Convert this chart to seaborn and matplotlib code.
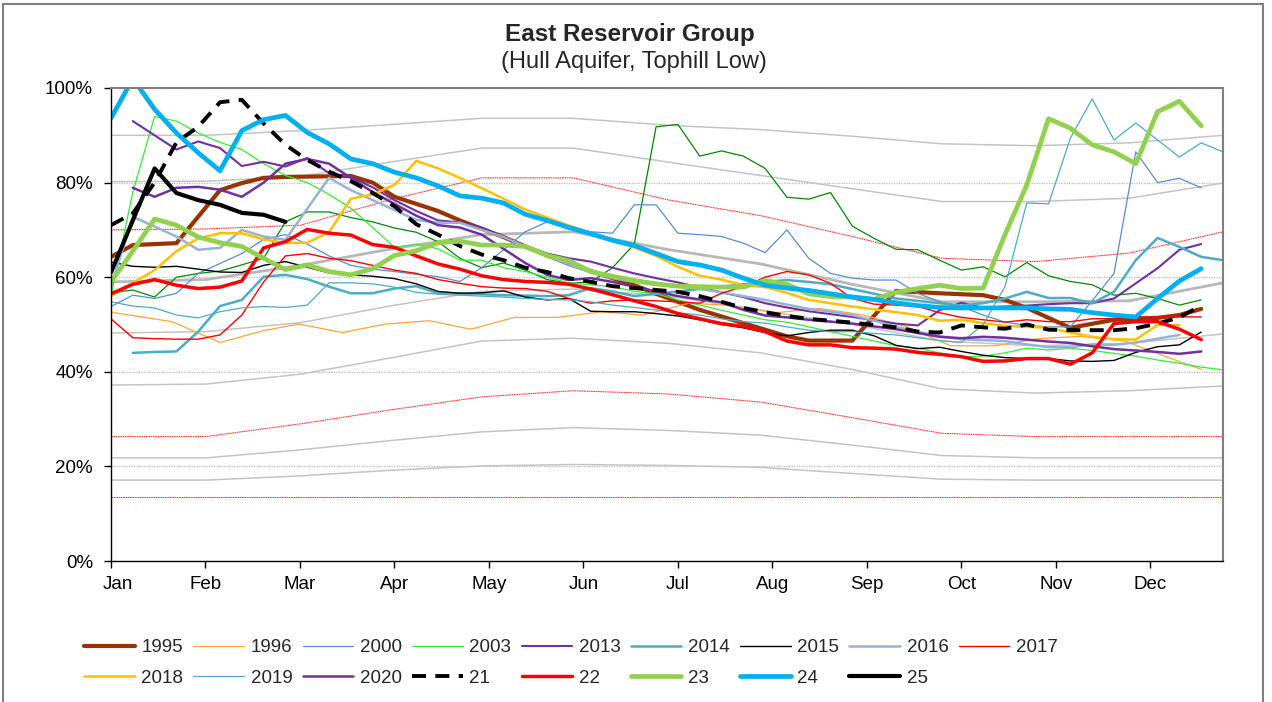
import numpy as np
import matplotlib
matplotlib.use("Agg")
import matplotlib.pyplot as plt
from matplotlib.patches import Rectangle
from matplotlib.transforms import ScaledTranslation
import seaborn as sns

# x axis is in weeks of the year (52 weeks, labels every month)
months = ["Jan", "Feb", "Mar", "Apr", "May", "Jun", "Jul", "Aug", "Sep", "Oct", "Nov", "Dec"]

# monthly band curves (grey / red guide lines)
band_weeks = [0, 4.35, 8.7, 12.9, 17, 21.2, 25.6, 29.8, 34, 38.1, 42.4, 46.7, 51]
grey_top = [90, 90, 91, 92.3, 93.6, 93.6, 92.1, 91.2, 89.8, 88.2, 87.8, 88.4, 90]
grey_upper = [80.2, 80.3, 81.3, 84.4, 87.3, 87.3, 84.3, 81.5, 78.7, 76, 76, 76.7, 79.9]
red_upper = [70, 70.2, 71, 76.5, 81, 81, 76.3, 73, 68.6, 64, 63.3, 65.1, 69.6]
grey_mid = [59, 59.5, 62.5, 66, 69, 69.6, 65.8, 62.8, 58.5, 54.8, 54.8, 55, 58.8]
grey_lowmid = [48.2, 48.5, 50.4, 54, 57, 57.5, 56, 53, 50, 46.5, 45.5, 46, 48]
grey_low = [37.2, 37.4, 39.5, 43, 46.5, 47.1, 46, 44, 40.5, 36.4, 35.5, 36, 37]
red_low = [26.3, 26.3, 29, 32, 34.7, 36, 35.3, 33.6, 30.3, 27, 26.3, 26.3, 26.3]
grey_lower = [21.8, 21.8, 23.5, 25.5, 27.3, 28.2, 27.6, 26.6, 24.5, 22.3, 21.8, 21.8, 21.8]
grey_bottom = [17.1, 17.1, 18, 19.2, 20.1, 20.4, 20.2, 19.8, 18.5, 17.3, 17.1, 17.1, 17.1]
red_floor = [13.5, 13.5, 13.5, 13.5, 13.5, 13.5, 13.5, 13.5, 13.5, 13.5, 13.5, 13.5, 13.5]

# yearly storage, % full (weekly readings, starting week given)
y1995_wk = [0, 1, 3, 5, 6, 7, 8, 11, 12, 13, 15, 16, 18, 19, 21, 23, 24, 25, 27, 29, 31, 32, 34,
            36, 38, 40, 41, 42, 44, 46, 48, 49, 50]
y1995 = [64.3, 66.8, 67.2, 78.4, 79.9, 81, 81.2, 81.4, 80, 77, 74, 72, 68.5, 66.5, 62.8, 59.8,
         58.3, 56.5, 53.1, 50.3, 47.5, 46.6, 46.6, 57.1, 56.6, 56.2, 55.2, 53.5, 49.3, 51, 51.4, 52, 53.3]

y1996_wk = [0, 2.8, 5, 7, 8.6, 10.6, 12.6, 14.6, 16.5, 18.5, 20.5, 22.5, 24.4, 26.5, 28.5, 30.5,
            32.5, 34.5, 36.5, 38.5, 40.5, 42.5, 44.5, 46.5, 48.5, 50]
y1996 = [52.6, 50.6, 46.2, 48.7, 50.1, 48.3, 50.1, 50.8, 49, 51.5, 51.5, 52.7, 52, 54.5, 54, 52.5,
         53.4, 52, 49.5, 45.5, 45.5, 47, 47.5, 46.5, 43, 40.5]

y2000 = [53.8, 56.2, 55.5, 56.6, 60.8, 62.9, 65, 68, 69, 67, 64.5, 62.5, 61.7, 61.2, 60.6, 60.1,
         59.1, 62, 65.8, 69.6, 71.7, 70.6, 69.6, 69.3, 75.3, 75.3, 69.3, 69, 68.6, 67.2, 65.2, 70,
         64, 60.8, 59.8, 59.4, 59.4, 56.6, 54.8, 53.8, 52, 50.5, 49.8, 49.5, 49.5, 55, 60.8, 86.5,
         80, 80.9, 78.9]

y2003 = [56, 78, 94, 93, 90.5, 88.5, 87, 84, 81.5, 80, 77.5, 74.6, 70.5, 66.3, 67, 66, 63.6, 63.6,
         62, 61.2, 60, 58.8, 58.4, 58, 57, 56.5, 55.2, 54.1, 53, 52, 51, 50.5, 49.5, 48.5, 47.5,
         46.5, 45.5, 45, 44, 43.2, 43.3, 44, 45, 44.6, 45, 44.5, 43.9, 43.3, 42.5, 41.8, 41, 40.4]

y2003b = [56.7, 57.3, 55.8, 60, 60.8, 61.3, 62.6, 64, 71.7, 73.8, 73.8, 72.6, 71.7, 70.4, 69.5,
          67.5, 64, 62, 63, 61.5, 59.5, 58.7, 59, 62, 67, 91.8, 92.3, 85.6, 86.7, 85.6, 83, 76.9,
          76.5, 77.9, 70.8, 68.2, 65.9, 65.8, 63.6, 61.5, 62.2, 60.1, 63.1, 60.3, 59.1, 58.4,
          56.2, 56.6, 55.5, 54.1, 55.2]

y2013 = [93, 90, 87, 88.7, 87.3, 83.5, 84.4, 83.4, 85.2, 82, 81.2, 79, 76.3, 74, 72, 71.6, 70.5,
         68.5, 66.5, 65, 64, 63.3, 62, 60.8, 59.8, 58.9, 57.8, 56.8, 55.8, 54.5, 53.6, 52.8,
         52.2, 51.6, 50.9, 50.2, 49.8, 53, 54.6, 53.5, 53.8, 54, 54.3, 54.5, 54.5, 55.5, 58.7,
         61.9, 65.8, 67]

y2014 = [44, 44.2, 44.3, 48.5, 53.9, 55.2, 60.1, 60.5, 59.6, 58, 56.6, 56.6, 57.6, 58.1, 56.6,
         56.6, 56.4, 56.2, 56.1, 56, 56.2, 57.7, 57, 56, 56.5, 57, 57.5, 58, 58.5, 59, 59.4, 59,
         58.5, 57.5, 56.5, 55.5, 55, 54.5, 54, 54.5, 55.5, 56.9, 55.6, 55.6, 54.5, 56.9, 63.6,
         68.3, 66.4, 64.3, 63.6, 62.2]

y2015 = [63.2, 62.3, 62.1, 62.3, 61.7, 61.1, 61, 62.5, 63.3, 62.1, 60.9, 60.5, 60.2, 59.7, 58.6,
         57, 56.6, 56.7, 57.1, 55.8, 55.2, 55.5, 52.8, 52.7, 52.7, 52.3, 51.8, 51, 50, 49.3,
         48.3, 47.6, 48.3, 48.8, 48.8, 47.6, 45.6, 44.9, 45.2, 44.3, 43.5, 43, 42.8, 42.8, 42.3,
         42.2, 42.4, 44.1, 45.3, 45.7, 48.4]

y2016 = [58, 72.8, 70.7, 68.6, 65.8, 66.2, 70, 68.6, 67.9, 74.5, 81, 78.4, 76.3, 74.2, 72.1,
         71.5, 71.5, 70, 68.5, 66.5, 64.5, 62.7, 61, 59.8, 59, 58.4, 58, 57.5, 56.8, 56, 55.2,
         54.2, 53.3, 52.7, 52, 50.8, 49.5, 48.5, 47.5, 46.9, 46.7, 46.5, 45.8, 45.2, 45.2, 45.8,
         45.7, 46.2, 47, 47.8]

y2017 = [51.2, 47.2, 47, 46.9, 46.9, 47.8, 52, 59, 64.5, 65, 64, 63.5, 62.5, 61.5, 60.8, 59.5,
         58.7, 58, 57.7, 57.6, 57, 55.5, 54.5, 55, 55.2, 55, 54.8, 54.5, 56.6, 58, 60, 61.2, 60.5,
         58.7, 55.5, 54.3, 54.1, 53.8, 52.5, 51.5, 51, 50.5, 51, 50.6, 50.6, 51.2, 51.3, 51.6,
         51.6, 51.6, 51.6]

y2018 = [56, 58.8, 61.5, 65.5, 68.2, 69.3, 69.3, 68, 67.2, 67.3, 69.5, 76.6, 77.5, 79.5, 84.6, 83,
         81, 78.8, 76.6, 74.3, 72.6, 70.9, 69.4, 67.9, 66.3, 64.5, 62.2, 60.3, 59.5, 58.3, 57.9,
         56.7, 55.2, 54.5, 53.8, 53.2, 52.6, 52, 50.8, 51, 50.3, 49.7, 49.5, 49.3, 48.3, 47.4,
         46.9, 46.8, 49.9, 49.9]

y2019 = [54.8, 53.9, 53.5, 52, 51.4, 52.7, 53.5, 53.8, 53.6, 54.1, 58.8, 58.8, 58.6, 57.9, 56.8,
         56.4, 56.2, 56, 55.8, 55.5, 55.3, 55.2, 54.8, 54.1, 53.6, 53.1, 52.5, 52, 51.2, 50.6,
         50.3, 49.5, 48.8, 48.5, 48.5, 48.1, 47.8, 47.2, 46.6, 46.2, 50, 58, 75.7, 75.5, 89.4,
         97.7, 89, 92.6, 89, 85.4, 88.4, 86.5]

y2020 = [78.9, 77, 78.9, 79.1, 78.5, 77, 80, 84, 85, 84, 81, 78, 75.5, 73, 71, 70.5, 69, 66, 63,
         60.5, 59.4, 59.8, 59, 58, 57, 56, 55.3, 54.7, 53.1, 51.9, 51.5, 51, 50.6, 50.2, 49.6, 49,
         48.2, 47.4, 47.1, 47.4, 47.2, 46.8, 46.4, 46.1, 45.4, 44.8, 44.5, 44.2, 43.8, 44.3]

y21 = [71, 73.5, 80, 88.5, 91.8, 97, 97.5, 92.5, 88, 84.8, 82.3, 80.3, 77.8, 75, 71.2, 69, 66.6,
       64.8, 63.6, 62, 61.1, 59.8, 59, 58.1, 57.7, 57.3, 56.9, 56, 54.8, 53.5, 52.6, 51.8, 51.2,
       50.8, 50.4, 49.9, 49.4, 48.5, 48.3, 49.8, 49.4, 49.1, 50, 48.9, 48.8, 48.8, 48.8, 49.2,
       50.2, 51.5, 54]

y22 = [56.5, 58.5, 59.5, 58.3, 57.6, 57.9, 59.2, 66.2, 67.5, 70.1, 69.3, 68.9, 66.9, 66.3, 64.5,
       62.8, 61.7, 60.3, 59.5, 59.1, 58.9, 58.5, 57.5, 56.3, 55, 53.8, 52.3, 51.2, 50.2, 49.6,
       48.5, 46.5, 45.7, 45.7, 45.1, 45, 44.8, 44.1, 43.7, 43.2, 42.2, 42.3, 42.8, 42.8, 41.6,
       44, 50.2, 50.6, 50.6, 49, 46.8]

y23 = [59, 65.5, 72.3, 71, 68.5, 67.3, 66.5, 64, 61.6, 62.6, 61.2, 60.5, 61.8, 64.6, 65.6, 67.3,
       67.6, 66.8, 66.8, 66.5, 64.6, 63.5, 61.2, 60.2, 59.3, 58.6, 58.1, 58, 57.9, 57.9, 59.3,
       58.5, 56.5, 55.9, 55.8, 55.3, 56.8, 57.6, 58.3, 57.6, 57.7, 69, 79.5, 93.5, 91.5, 88,
       86.5, 84, 95, 97.2, 92]

y24 = [93.6, 102, 95.5, 90.5, 86.3, 82.5, 91, 93.3, 94.2, 90.6, 88.2, 85, 84, 82.2, 81, 79.3,
       77.2, 76.7, 75.7, 73.3, 72, 70.5, 69.2, 67.8, 66.7, 65, 63.3, 62.6, 61.5, 59.8, 58.3,
       57.7, 57.2, 56.5, 55.8, 55.3, 54.6, 54, 53.6, 53.5, 53.5, 53.5, 53.5, 53.3, 53.2, 52.5,
       52, 51.6, 55.5, 59.2, 61.8]

y25 = [61, 72, 83, 77.8, 76.3, 75.3, 73.6, 73.2, 71.7]

sns.set_theme(style="white")
plt.rcParams["font.family"] = ["Liberation Sans", "DejaVu Sans"]

fig = plt.figure(figsize=(12.72, 7.02), dpi=100)
ax = fig.add_axes([111 / 1272, 1 - 561 / 702, 1112 / 1272, 473 / 702])


def weekly(values, start=0):
    return np.arange(start, start + len(values))


def draw(x, y, color, lw, label=None, ls="-"):
    sns.lineplot(x=x, y=y, ax=ax, color=color, linewidth=lw, linestyle=ls,
                 label=label, sort=False, estimator=None, legend=False)


# background guide curves
for curve in [grey_top, grey_upper, grey_lowmid, grey_low, grey_lower, grey_bottom]:
    draw(band_weeks, curve, "#c4c4c4", 1.1)
draw(band_weeks, grey_mid, "#b8b8b8", 2.0)
for curve in [red_upper, red_low, red_floor]:
    draw(band_weeks, curve, "#ff3b3b", 0.8, ls=(0, (1.5, 0.6)))

# year lines (thin first, thick on top)
draw(weekly(y2003b), y2003b, "#008a00", 0.9)
draw(y1995_wk, y1995, "#993300", 3.0, "1995")
draw(y1996_wk, y1996, "#ffa534", 0.9, "1996")
draw(weekly(y2000), y2000, "#558ed5", 0.9, "2000")
draw(weekly(y2003), y2003, "#33ee33", 0.9, "2003")
draw(weekly(y2013, 1), y2013, "#7030a0", 1.5, "2013")
draw(weekly(y2014, 1), y2014, "#4bacc6", 1.8, "2014")
draw(weekly(y2015), y2015, "#000000", 1.0, "2015")
draw(weekly(y2016), y2016, "#95b3d7", 1.8, "2016")
draw(weekly(y2017), y2017, "#ff0000", 1.0, "2017")
draw(weekly(y2018), y2018, "#ffc000", 1.8, "2018")
draw(weekly(y2019), y2019, "#4bacc6", 0.9, "2019")
draw(weekly(y2020, 1), y2020, "#7030a0", 1.8, "2020")
draw(weekly(y21), y21, "#000000", 2.8, "21", ls=(0, (3.6, 2.4)))
draw(weekly(y22), y22, "#ff0000", 2.5, "22")
draw(weekly(y23), y23, "#92d050", 3.4, "23")
draw(weekly(y24), y24, "#00b0f0", 3.4, "24")
draw(weekly(y25), y25, "#000000", 3.0, "25")

ax.set_xlim(0, 51)
ax.set_ylim(0, 100)
ax.set_xticks([52 / 12 * i for i in range(12)])
ax.set_xticklabels(months)
ax.set_yticks(range(0, 101, 20))
ax.set_yticklabels([f"{v}%" for v in range(0, 101, 20)])
ax.set_xlabel("")
ax.set_ylabel("")
ax.tick_params(axis="both", labelsize=13.5, colors="black", length=5, width=1,
               direction="out", bottom=True, left=True)
ax.tick_params(axis="y", pad=8)
ax.tick_params(axis="x", pad=6)
# first month label sits a little right of its tick in the original
jan = ax.get_xticklabels()[0]
jan.set_transform(jan.get_transform() + ScaledTranslation(0.07, 0, fig.dpi_scale_trans))
ax.yaxis.grid(True, color="#bdbdbd", linestyle=(0, (1, 1)), linewidth=0.9)
ax.set_axisbelow(True)
for side in ["left", "bottom"]:
    ax.spines[side].set_color("black")
    ax.spines[side].set_linewidth(1.0)
for side in ["top", "right"]:
    ax.spines[side].set_color("#808080")
    ax.spines[side].set_linewidth(1.5)

fig.text(630 / 1272, 1 - 35 / 702, "East Reservoir Group", ha="center", va="center",
         fontsize=17.5, fontweight="bold")
fig.text(634 / 1272, 1 - 62 / 702, "(Hull Aquifer, Tophill Low)", ha="center", va="center",
         fontsize=17)

# legend laid out row by row like the original
handles, labels = ax.get_legend_handles_labels()
lookup = dict(zip(labels, handles))
row1 = ["1995", "1996", "2000", "2003", "2013", "2014", "2015", "2016", "2017"]
row2 = ["2018", "2019", "2020", "21", "22", "23", "24", "25"]
order = []
for i in range(9):
    order.append(row1[i])
    if i < len(row2):
        order.append(row2[i])
fig.legend([lookup[k] for k in order], order, ncol=9, loc="upper left",
           bbox_to_anchor=(84 / 1272, 1 - 639 / 702), frameon=False, fontsize=13.5,
           handlelength=2.7, handletextpad=0.35, columnspacing=0.55, labelspacing=0.72,
           borderpad=0, borderaxespad=0)

fig.add_artist(Rectangle((3 / 1272, -0.01), 1260 / 1272, 1 - 4 / 702 + 0.01,
                         transform=fig.transFigure, fill=False, edgecolor="#808080",
                         linewidth=1.5))

fig.savefig("out.png", dpi=100)
